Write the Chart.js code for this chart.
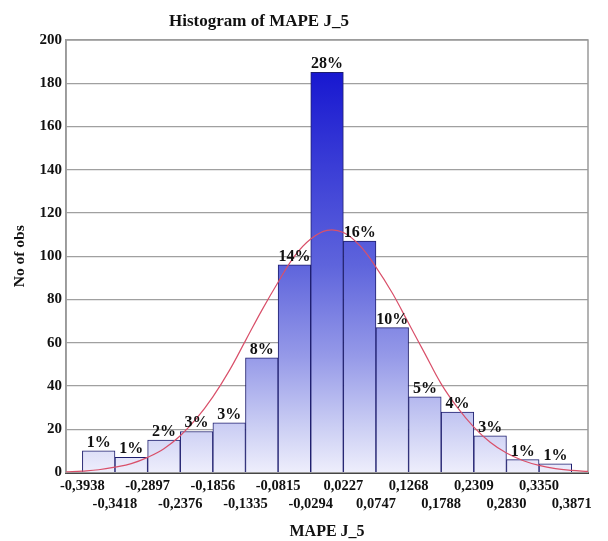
<!DOCTYPE html>
<html>
<head>
<meta charset="utf-8">
<script src="https://cdn.jsdelivr.net/npm/chart.js@4.4.1/dist/chart.umd.min.js"></script>
<style>
  html, body { margin: 0; padding: 0; background: #fff; }
  #wrap { width: 608px; height: 541px; }
</style>
</head>
<body>
<div id="wrap"><canvas id="histChart" width="608" height="541"></canvas></div>
<script>
// données
const chartTitle = 'Histogram of MAPE J_5';
const xTitle = 'MAPE J_5';
const yTitle = 'No of obs';

// bornes des classes (16 bornes -> 15 barres)
const binEdges = [-0.3938, -0.3418, -0.2897, -0.2376, -0.1856, -0.1335, -0.0815, -0.0294,
                  0.0227, 0.0747, 0.1268, 0.1788, 0.2309, 0.2830, 0.3350, 0.3871];
const edgeLabels = ['-0,3938', '-0,3418', '-0,2897', '-0,2376', '-0,1856', '-0,1335', '-0,0815', '-0,0294',
                    '0,0227', '0,0747', '0,1268', '0,1788', '0,2309', '0,2830', '0,3350', '0,3871'];

// effectifs par classe
const counts = [10, 7, 15, 19, 23, 53, 96, 185, 107, 67, 35, 28, 17, 6, 4];
const pctLabels = ['1%', '1%', '2%', '3%', '3%', '8%', '14%', '28%', '16%', '10%', '5%', '4%', '3%', '1%', '1%'];

// courbe normale (points relevés)
const curveX = [-0.4198, -0.3938, -0.3678, -0.3418, -0.3158, -0.2897, -0.2637, -0.2376, -0.2116,
                -0.1856, -0.1596, -0.1335, -0.1075, -0.0815, -0.0555, -0.0294, -0.0034, 0.0227,
                0.0487, 0.0747, 0.1008, 0.1268, 0.1528, 0.1788, 0.2049, 0.2309, 0.2570, 0.2830,
                0.3090, 0.3350, 0.3611, 0.3871, 0.4131];
const curveY = [0.3, 0.7, 1.3, 2.5, 4.1, 7, 11, 17, 25,
                35, 47, 61, 75, 88, 100, 108, 112, 111,
                105, 95, 83, 69, 55, 41, 30, 21, 14, 9,
                5.6, 3.3, 1.8, 1, 0.5];

const xMin = -0.4198, xMax = 0.4131;
const yMax = 200, yStep = 20;

const serif = '"Liberation Serif", "Times New Roman", serif';

// centre de chaque barre = milieu de la classe
const binCenters = counts.map((c, i) => (binEdges[i] + binEdges[i + 1]) / 2);

// Dégradé bleu (foncé en haut, clair en bas)
function barGradient(context) {
    const chart = context.chart;
    if (!chart.chartArea) return '#8088e4';
    const y = chart.scales.y;
    const g = chart.ctx.createLinearGradient(0, y.getPixelForValue(0), 0, y.getPixelForValue(yMax));
    g.addColorStop(0, '#eeeefc');
    g.addColorStop(0.1, '#cdd0f4');
    g.addColorStop(0.27, '#9599e8');
    g.addColorStop(0.48, '#5e64dc');
    g.addColorStop(0.93, '#1717d0');
    g.addColorStop(1, '#1010c8');
    return g;
}

// Cadre gris autour de la zone du graphe
const framePlugin = {
    id: 'frame',
    beforeDatasetsDraw(chart) {
        const { ctx, chartArea: a } = chart;
        ctx.save();
        ctx.strokeStyle = '#9a9a9a';
        ctx.lineWidth = 1.5;
        ctx.strokeRect(a.left, a.top, a.right - a.left, a.bottom - a.top);
        ctx.restore();
    }
};

// Pourcentages au-dessus des barres + titre
const labelsPlugin = {
    id: 'pctLabels',
    afterDatasetsDraw(chart) {
        const ctx = chart.ctx;
        const meta = chart.getDatasetMeta(1);
        ctx.save();
        ctx.font = 'bold 16px ' + serif;
        ctx.fillStyle = '#111';
        ctx.textAlign = 'center';
        ctx.textBaseline = 'alphabetic';
        meta.data.forEach((bar, i) => {
            ctx.fillText(pctLabels[i], bar.x, bar.y - 4);
        });
        // titre
        ctx.font = 'bold 17px ' + serif;
        ctx.fillText(chartTitle, 259, 26);
        ctx.restore();
    }
};

const ctx = document.getElementById('histChart').getContext('2d');
new Chart(ctx, {
    data: {
        datasets: [
            {
                type: 'line',
                data: curveX.map((x, i) => ({ x: x, y: curveY[i] })),
                borderColor: '#d9506a',
                borderWidth: 1.2,
                pointRadius: 0,
                tension: 0.4,
                order: 1
            },
            {
                type: 'bar',
                data: binCenters.map((x, i) => ({ x: x, y: counts[i] })),
                backgroundColor: barGradient,
                borderColor: '#1e1e6e',
                borderWidth: 1,
                barPercentage: 1,
                categoryPercentage: 1,
                order: 2
            }
        ]
    },
    options: {
        responsive: false,
        animation: false,
        layout: { padding: { top: 40, right: 20, left: 0, bottom: 0 } },
        plugins: {
            legend: { display: false },
            tooltip: { enabled: false },
            title: { display: false }
        },
        scales: {
            x: {
                type: 'linear',
                min: xMin,
                max: xMax,
                offset: false,
                afterBuildTicks: (axis) => { axis.ticks = binEdges.map(v => ({ value: v })); },
                grid: { display: false, drawTicks: false, offset: false },
                border: { color: '#222', width: 2 },
                ticks: {
                    autoSkip: false,
                    maxRotation: 0,
                    padding: 5,
                    color: '#111',
                    font: { family: serif, size: 14.5, weight: 'bold', lineHeight: 1.25 },
                    callback: (v, i) => i % 2 === 0 ? [edgeLabels[i], ''] : ['', edgeLabels[i]]
                },
                title: {
                    display: true,
                    text: xTitle,
                    color: '#111',
                    font: { family: serif, size: 16, weight: 'bold' },
                    padding: { top: 3, bottom: 0 }
                }
            },
            y: {
                min: 0,
                max: yMax,
                ticks: {
                    stepSize: yStep,
                    padding: 4,
                    color: '#111',
                    font: { family: serif, size: 15, weight: 'bold' }
                },
                grid: { color: '#a0a0a0', lineWidth: 1.2, drawTicks: false },
                border: { color: '#9a9a9a', width: 1.5 },
                title: {
                    display: true,
                    text: yTitle,
                    color: '#111',
                    font: { family: serif, size: 15.5, weight: 'bold' },
                    padding: { top: 11, bottom: 6 }
                }
            }
        }
    },
    plugins: [framePlugin, labelsPlugin]
});
</script>
</body>
</html>
